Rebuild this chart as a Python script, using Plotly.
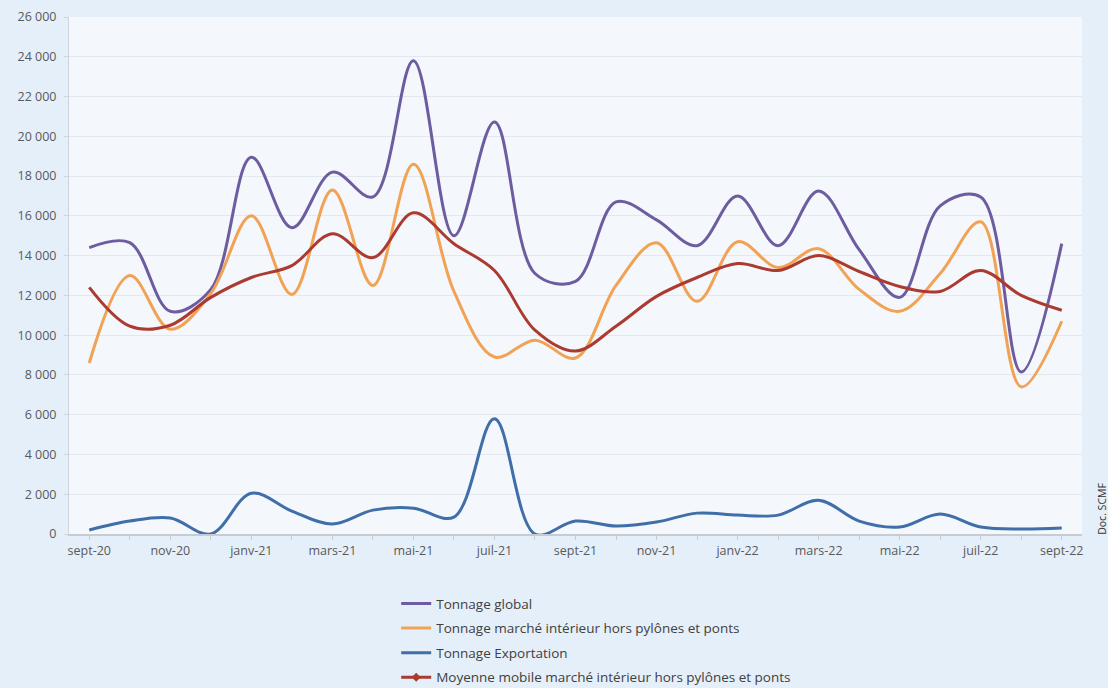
import plotly.graph_objects as go

months = ["sept-20", "oct-20", "nov-20", "déc-20", "janv-21", "févr-21", "mars-21", "avr-21",
          "mai-21", "juin-21", "juil-21", "août-21", "sept-21", "oct-21", "nov-21", "déc-21",
          "janv-22", "févr-22", "mars-22", "avr-22", "mai-22", "juin-22", "juil-22", "août-22",
          "sept-22"]

tonnage_global = [14400, 14650, 11200, 12300, 18950, 15400, 18200, 16950, 23800, 15000,
                  20720, 13100, 12700, 16700, 15800, 14500, 17000, 14500, 17250, 14300,
                  11900, 16500, 16950, 8150, 14600]

tonnage_interieur = [8600, 13000, 10300, 12100, 16000, 12050, 17300, 12500, 18600, 12200,
                     8900, 9750, 8850, 12500, 14650, 11700, 14700, 13400, 14350, 12300,
                     11200, 13100, 15700, 7400, 10700]

tonnage_export = [200, 650, 800, 0, 2050, 1150, 500, 1200, 1300, 850,
                  5800, 0, 650, 400, 600, 1050, 950, 950, 1700, 650,
                  350, 1000, 350, 250, 300]

moyenne_mobile = [12400, 10450, 10500, 11900, 12900, 13500, 15100, 13900, 16150, 14600,
                  13250, 10250, 9200, 10450, 11950, 12900, 13600, 13250, 14000, 13200,
                  12450, 12200, 13250, 12000, 11250]

names = ["Tonnage global",
         "Tonnage marché intérieur hors pylônes et ponts",
         "Tonnage Exportation",
         "Moyenne mobile marché intérieur hors pylônes et ponts"]

y_ticks = list(range(0, 26001, 2000))

C_PURPLE = "#6d5c9f"
C_ORANGE = "#f2a254"
C_BLUE = "#3f6ea8"
C_RED = "#ab3a30"

FONT = "Open Sans"

fig = go.Figure()

series = [(tonnage_global, names[0], C_PURPLE),
          (tonnage_interieur, names[1], C_ORANGE),
          (tonnage_export, names[2], C_BLUE)]
for i, (vals, nm, col) in enumerate(series):
    fig.add_trace(go.Scatter(
        x=months, y=vals, name=nm, mode="lines",
        line=dict(color=col, width=3, shape="spline", smoothing=1.0),
        legendgroup=f"g{i}"))

fig.add_trace(go.Scatter(
    x=months, y=moyenne_mobile, name=names[3], mode="lines",
    line=dict(color=C_RED, width=3, shape="spline", smoothing=1.0),
    legendgroup="g3", showlegend=False))
# legend entry (line with diamond marker)
fig.add_trace(go.Scatter(
    x=[None], y=[None], name=names[3], mode="lines+markers",
    line=dict(color=C_RED, width=3),
    marker=dict(symbol="diamond", size=7, color=C_RED),
    legendgroup="g3"))

tick_text = [m if i % 2 == 0 else "" for i, m in enumerate(months)]

fig.update_layout(
    width=1108, height=688,
    margin=dict(l=69, r=26, t=17, b=154, autoexpand=False),
    paper_bgcolor="#e5eff9",
    plot_bgcolor="#f4f7fb",
    separators=", ",
    font=dict(family=FONT, size=12, color="#595959"),
    showlegend=True,
    legend=dict(
        x=0.323, y=-0.105, xanchor="left", yanchor="top",
        orientation="v", bgcolor="rgba(0,0,0,0)",
        font=dict(family=FONT, size=13.5, color="#404040"),
        tracegroupgap=4, itemwidth=30, traceorder="grouped"),
    xaxis=dict(
        type="category", range=[-0.5, 24.5],
        tickmode="array", tickvals=months, ticktext=tick_text,
        ticks="outside", ticklen=4, tickcolor="#c8ccd2",
        showline=True, linecolor="#c8ccd2", linewidth=1.5,
        showgrid=False, tickangle=0,
        tickfont=dict(family=FONT, size=12.5, color="#595959")),
    yaxis=dict(
        range=[0, 26000], tickmode="array", tickvals=y_ticks,
        tickformat=",d",
        ticks="outside", ticklen=4, tickcolor="#d0d4da",
        showline=True, linecolor="#d0d4da", linewidth=1,
        showgrid=True, gridcolor="#e3e8ef", gridwidth=1,
        zeroline=False, ticklabelstandoff=5,
        tickfont=dict(family=FONT, size=12.5, color="#595959")),
)

fig.add_annotation(
    text="Doc. SCMF", xref="paper", yref="paper",
    x=1.019, y=-0.005, xanchor="center", yanchor="bottom",
    textangle=-90, showarrow=False,
    font=dict(family=FONT, size=10.5, color="#333333"))

fig.write_html("out.html", config={"displayModeBar": False},
               post_script="document.body.style.margin='0';")
